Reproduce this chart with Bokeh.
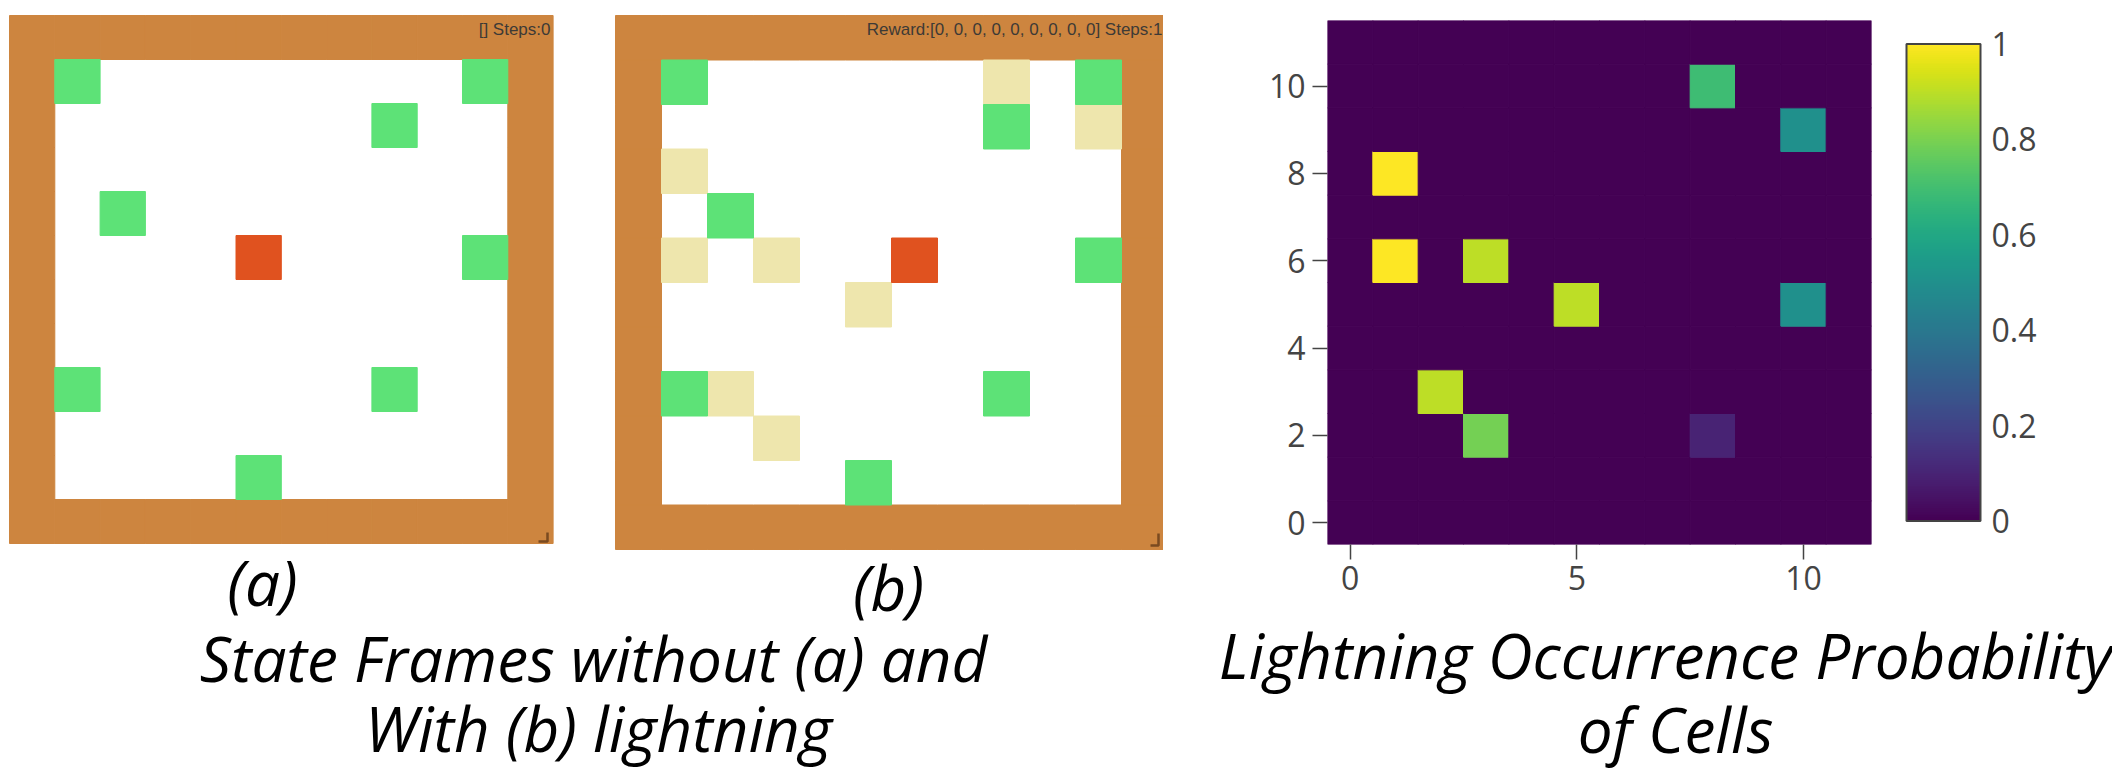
from bokeh.plotting import figure
from bokeh.models import (Range1d, LinearColorMapper, ColorBar, FixedTicker,
                          CustomJSTickFormatter, ColumnDataSource)
from bokeh.layouts import row, column
from bokeh.palettes import Viridis256
from bokeh.core.properties import value
from bokeh.embed import file_html
from bokeh.resources import INLINE

# ---------------- data ----------------
grid_size = 12
wall_color = "#cd853f"
tree_color = "#5de277"
agent_color = "#e0521f"
light_color = "#eee6ad"

tree_x = [1, 10, 8, 2, 10, 1, 8, 5]
tree_y = [10, 10, 9, 7, 6, 3, 3, 1]
agent_a_x = [5]
agent_a_y = [6]
agent_b_x = [6]
agent_b_y = [6]
light_b_x = [8, 10, 1, 1, 3, 5, 2, 3]
light_b_y = [10, 9, 8, 6, 6, 5, 3, 2]
status_a = "[] Steps:0"
status_b = "Reward:[0, 0, 0, 0, 0, 0, 0, 0, 0] Steps:1"

heat_x = [8, 10, 1, 1, 3, 5, 10, 2, 3, 8]
heat_y = [10, 9, 8, 6, 6, 5, 5, 3, 2, 2]
heat_p = [0.69, 0.5, 1.0, 1.0, 0.9, 0.9, 0.5, 0.9, 0.79, 0.1]
x_ticks = [0, 5, 10]
y_ticks = [0, 2, 4, 6, 8, 10]
cb_ticks = [0, 0.2, 0.4, 0.6, 0.8, 1]

caption_a = "(a)"
caption_b = "(b)"
title_left = ["State Frames without (a) and", "With (b) lightning"]
title_right = ["Lightning Occurrence Probability", "of Cells"]

TITLE_FONT = value("Open Sans")
TITLE_SIZE = "62px"
TICK_FONT = "Open Sans"
TICK_SIZE = "32px"
TEXT_SHIFT = 23   # baseline correction of the text glyph, in px


def bare(p):
    p.outline_line_color = None
    p.background_fill_color = "white"
    p.border_fill_color = "white"
    p.grid.visible = False
    return p


# ------------- left figure: both state frames + captions (page px coords) -------------
LW, LH = 1163, 770
fig_l = figure(width=LW, height=LH, x_range=Range1d(0, LW), y_range=Range1d(LH, 0),
               x_axis_type=None, y_axis_type=None, output_backend="svg",
               toolbar_location=None, min_border=0, frame_align=False)
bare(fig_l)


def grid_ranges(name, left_px, top_px, cw, ch):
    xs = -0.5 - left_px / cw
    ye = (grid_size - 0.5) + top_px / ch
    fig_l.extra_x_ranges[name + "x"] = Range1d(xs, xs + LW / cw)
    fig_l.extra_y_ranges[name + "y"] = Range1d(ye - LH / ch, ye)
    return name + "x", name + "y"


def draw_frame(xr, yr, agent_x, agent_y, light_x, light_y):
    wx, wy = [], []
    for i in range(grid_size):
        for j in range(grid_size):
            if i in (0, grid_size - 1) or j in (0, grid_size - 1):
                wx.append(i)
                wy.append(j)
    kw = dict(x_range_name=xr, y_range_name=yr, line_width=1)
    fig_l.rect(wx, wy, 1, 1, fill_color=wall_color, line_color=wall_color, **kw)
    if light_x:
        fig_l.rect(light_x, light_y, 1, 1, fill_color=light_color, line_color=light_color, **kw)
    fig_l.rect(tree_x, tree_y, 1, 1, fill_color=tree_color, line_color=tree_color, **kw)
    fig_l.rect(agent_x, agent_y, 1, 1, fill_color=agent_color, line_color=agent_color, **kw)


axr, ayr = grid_ranges("a", 9, 15, 45.3, 44.0)
bxr, byr = grid_ranges("b", 615, 15, 46.0, 44.5)
draw_frame(axr, ayr, agent_a_x, agent_a_y, [], [])
draw_frame(bxr, byr, agent_b_x, agent_b_y, light_b_x, light_b_y)

fig_l.text(x=[550, 1162], y=[28.5, 28.5], text=[status_a, status_b], text_align="right",
           text_baseline="middle", text_font=value("Liberation Sans"),
           text_font_size="17px", text_color="#3d3a36")
fig_l.multi_line(xs=[[547, 547, 538], [1158, 1158, 1150]],
                 ys=[[532, 541, 541], [533, 545, 545]],
                 line_color="#7a4a20", line_width=2.5)

fig_l.text(x=[262, 888], y=[604 - TEXT_SHIFT, 609 - TEXT_SHIFT], text=[caption_a, caption_b],
           text_align="center", text_baseline="alphabetic", text_font=TITLE_FONT,
           text_font_style="italic", text_font_size=TITLE_SIZE, text_color="black")
fig_l.text(x=[593, 598], y=[680 - TEXT_SHIFT, 750 - TEXT_SHIFT], text=title_left,
           text_align="center", text_baseline="alphabetic", text_font=TITLE_FONT,
           text_font_style="italic", text_font_size=TITLE_SIZE, text_color="black")

# ------------- heatmap -------------
gx, gy, gp = [], [], []
lookup = {(x, y): v for x, y, v in zip(heat_x, heat_y, heat_p)}
for i in range(grid_size):
    for j in range(grid_size):
        gx.append(i)
        gy.append(j)
        gp.append(lookup.get((i, j), 0.0))

mapper = LinearColorMapper(palette=Viridis256, low=0, high=1)
fig_h = figure(width=949, height=610, x_range=Range1d(-0.5, grid_size - 0.5),
               y_range=Range1d(-0.5, grid_size - 0.5), output_backend="svg",
               toolbar_location=None, min_border_left=164, min_border_right=241,
               min_border_top=20, min_border_bottom=66, frame_align=False)
fig_h.outline_line_color = None
fig_h.grid.visible = False
src = ColumnDataSource(dict(x=gx, y=gy, p=gp))
fig_h.rect(x="x", y="y", width=1, height=1, source=src,
           fill_color={"field": "p", "transform": mapper},
           line_color={"field": "p", "transform": mapper}, line_width=1)

for ax, ticks in ((fig_h.xaxis[0], x_ticks), (fig_h.yaxis[0], y_ticks)):
    ax.ticker = FixedTicker(ticks=ticks)
    ax.axis_line_color = None
    ax.major_tick_in = 0
    ax.major_tick_out = 15
    ax.major_tick_line_color = "#444444"
    ax.major_tick_line_width = 1.5
    ax.minor_tick_line_color = None
    ax.major_label_text_font = TICK_FONT
    ax.major_label_text_font_size = TICK_SIZE
    ax.major_label_text_color = "#444444"
fig_h.xaxis[0].major_label_standoff = 6
fig_h.yaxis[0].major_label_standoff = 7

cb = ColorBar(color_mapper=mapper, ticker=FixedTicker(ticks=cb_ticks),
              formatter=CustomJSTickFormatter(code="return String(Math.round(tick*10)/10);"),
              width=74, height=477, location="center_left", margin=0, padding=35,
              bar_line_color="#444444", bar_line_width=2, border_line_color=None,
              background_fill_color=None, major_tick_line_color=None,
              minor_tick_line_color=None, label_standoff=11,
              major_label_text_font=TICK_FONT, major_label_text_font_size=TICK_SIZE,
              major_label_text_color="#444444")
fig_h.add_layout(cb, "right")

fig_rt = figure(width=949, height=160, x_range=Range1d(0, 949), y_range=Range1d(160, 0),
                x_axis_type=None, y_axis_type=None, output_backend="svg",
                toolbar_location=None, min_border=0, frame_align=False)
bare(fig_rt)
fig_rt.text(x=[502, 512], y=[67 - TEXT_SHIFT, 141 - TEXT_SHIFT], text=title_right,
            text_align="center", text_baseline="alphabetic", text_font=TITLE_FONT,
            text_font_style="italic", text_font_size=TITLE_SIZE, text_color="black")

layout = row(fig_l, column(fig_h, fig_rt))

open("out.html", "w").write(file_html(layout, INLINE))
